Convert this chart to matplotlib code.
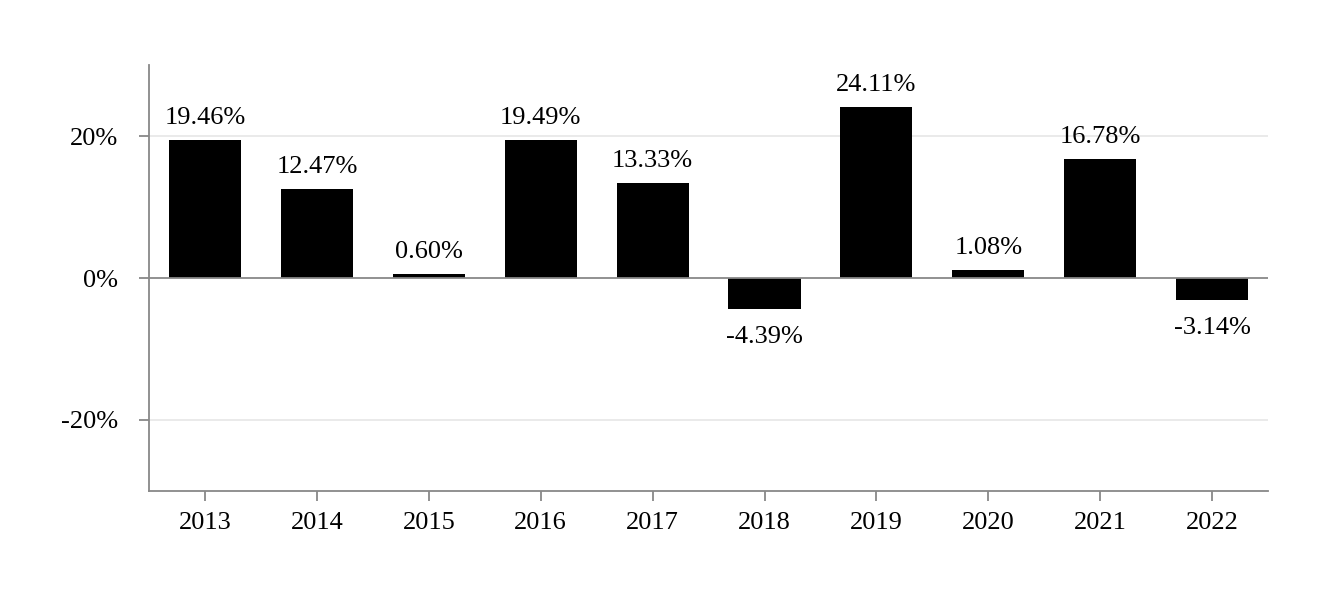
import matplotlib
matplotlib.use("Agg")
import matplotlib.pyplot as plt

years = ["2013", "2014", "2015", "2016", "2017", "2018", "2019", "2020", "2021", "2022"]
returns = [19.46, 12.47, 0.60, 19.49, 13.33, -4.39, 24.11, 1.08, 16.78, -3.14]
yticks = [-20, 0, 20]
ytick_labels = ["-20%", "0%", "20%"]

plt.rcParams['font.family'] = ['Liberation Serif', 'DejaVu Serif']

fig = plt.figure(figsize=(13.32, 6.02), dpi=100)
ax = fig.add_axes([0.1119, 0.1844, 0.952 - 0.1119, 0.892 - 0.1844])

x = list(range(len(years)))
ax.bar(x, returns, width=0.645, color="black", zorder=3)

ax.set_xlim(-0.5, len(years) - 0.5)
ax.set_ylim(-30, 30)
ax.set_yticks(yticks)
ax.set_yticklabels(ytick_labels)
ax.set_xticks(x)
ax.set_xticklabels(years)

for t in [-20, 20]:
    ax.axhline(t, color="#e6e6e6", lw=1.2, zorder=1)
ax.axhline(0, color="#888888", lw=1.3, zorder=4)

for xi, v in zip(x, returns):
    if v >= 0:
        ax.annotate(f"{v:.2f}%", (xi, v), xytext=(0, 8), textcoords="offset points",
                    ha="center", va="bottom", fontsize=19)
    else:
        ax.annotate(f"{v:.2f}%", (xi, v), xytext=(0, -12), textcoords="offset points",
                    ha="center", va="top", fontsize=19)

for s in ["top", "right"]:
    ax.spines[s].set_visible(False)
for s in ["left", "bottom"]:
    ax.spines[s].set_color("#888888")
    ax.spines[s].set_linewidth(1.3)

ax.tick_params(axis="both", direction="out", length=7, width=1.3, color="#888888",
               labelsize=19)
ax.tick_params(axis="y", pad=15)
ax.tick_params(axis="x", pad=8)

fig.savefig("out.png", dpi=100)
